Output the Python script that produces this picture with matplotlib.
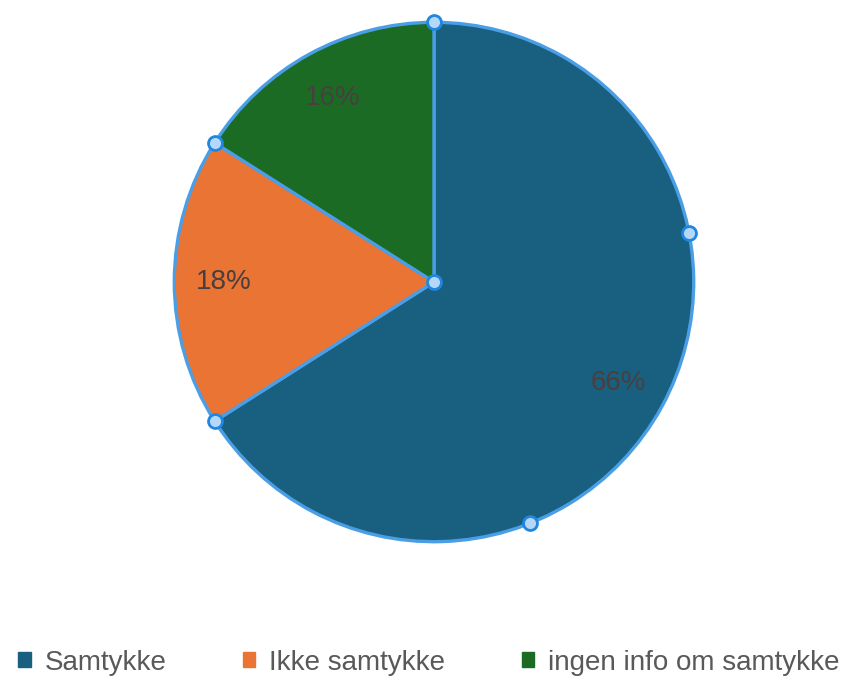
import numpy as np
import matplotlib
matplotlib.use('Agg')
import matplotlib.pyplot as plt

labels = ['Samtykke', 'Ikke samtykke', 'ingen info om samtykke']
values = [66, 18, 16]
colors = ['#195f80', '#e97433', '#1c6b25']

plt.rcParams['font.family'] = ['Liberation Sans Narrow', 'Liberation Sans', 'DejaVu Sans']

fig = plt.figure(figsize=(8.49, 6.77), dpi=100)
W, H = 849, 677
cx, cy, r = 434, 282, 261
ax = fig.add_axes([(cx - r) / W, (H - cy - r) / H, 2 * r / W, 2 * r / H])

wedges, texts, autotexts = ax.pie(
    values, colors=colors, startangle=90, counterclock=False,
    autopct='%d%%', pctdistance=0.81,
    wedgeprops=dict(edgecolor='#4a9ee6', linewidth=2.4),
    textprops=dict(color='#484040', fontsize=20))
ax.set_xlim(-1.005, 1.005)
ax.set_ylim(-1.005, 1.005)
ax.set_aspect('equal')
ax.axis('off')

# selection handles: centre, slice boundaries and thirds of the selected slice
tot = sum(values)
fr = [0] + list(np.cumsum(values) / tot)
pts = [fr[1], fr[2], 0.0]
pts += [fr[1] / 3, 2 * fr[1] / 3]
ang = np.pi / 2 - 2 * np.pi * np.array(pts)
ax.plot(np.cos(ang), np.sin(ang), 'o', ms=10, mfc='#b5d8f8', mec='#1f87e0', mew=2,
        clip_on=False, zorder=5)
ax.plot([0], [0], 'o', ms=10, mfc='#b5d8f8', mec='#1f87e0', mew=2, zorder=5)

handles = [plt.Rectangle((0, 0), 1, 1, color=c) for c in colors]
fig.legend(handles, labels, loc='lower center', ncol=3, frameon=False,
           bbox_to_anchor=(0.505, -0.035), fontsize=20, labelcolor='#595959',
           handlelength=0.45, handleheight=0.45, handletextpad=0.5, columnspacing=2.75)

fig.savefig('out.png', dpi=100)
